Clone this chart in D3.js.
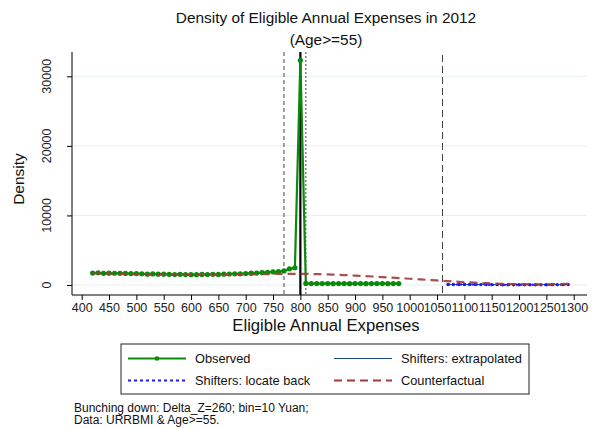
<!DOCTYPE html>
<html><head><meta charset="utf-8">
<script src="https://cdn.jsdelivr.net/npm/d3@7"></script>
<style>body{margin:0;background:#fff;} svg{display:block;font-family:"Liberation Sans",Arial,sans-serif;}</style>
</head><body>
<div id="chart"></div>
<script>
// ---- data ----
const xTicks = [400,450,500,550,600,650,700,750,800,850,900,950,1000,1050,1100,1150,1200,1250,1300];
const yTicks = [0,10000,20000,30000];
const obsX = [420,430,440,450,460,470,480,490,500,510,520,530,540,550,560,570,580,590,600,610,620,630,640,650,660,670,680,690,700,710,720,730,740,750,760,770,780,790,800,810,820,830,840,850,860,870,880,890,900,910,920,930,940,950,960,970,980];
const obsY = [1720,1760,1680,1700,1690,1680,1660,1640,1640,1620,1560,1590,1560,1550,1530,1510,1530,1500,1490,1480,1520,1510,1530,1520,1560,1580,1600,1610,1650,1700,1720,1780,1830,1880,1930,2020,2320,2480,32300,220,200,200,210,200,190,200,200,190,200,200,190,200,200,200,190,200,200];
const cfX = [420,440,460,480,500,520,540,560,580,600,620,640,660,680,700,720,740,760,780,800,820,840,860,880,900,920,940,960,980,1000,1020,1040,1060,1080,1100,1120,1140,1160,1180,1200,1220,1240,1260,1280,1290];
const cfY = [1660,1640,1610,1590,1560,1540,1520,1500,1490,1480,1480,1490,1500,1510,1530,1550,1570,1590,1600,1600,1580,1540,1490,1430,1350,1270,1180,1090,1000,900,800,700,600,500,410,330,260,200,150,120,100,100,110,140,160];
const shX = [1070,1080,1090,1100,1110,1120,1130,1140,1150,1160,1170,1180,1190,1200,1210,1220,1230,1240,1250,1260,1270,1280,1290];
const shY = [80,75,70,70,65,60,60,55,50,50,45,45,40,40,40,40,40,45,45,50,50,55,55];
const vLines = [{v:770,type:"dash"},{v:800,type:"solid"},{v:810,type:"dot"},{v:1060,type:"long"}];
const legendItems = ["Observed","Shifters: extrapolated","Shifters: locate back","Counterfactual"];
const noteLines = ["Bunching down: Delta_Z=260; bin=10 Yuan;","Data: URRBMI & Age>=55."];

// ---- chart ----
const W=592,H=429;
const svg=d3.select("#chart").append("svg").attr("width",W).attr("height",H);
const x=d3.scaleLinear().domain([400,1300]).range([81.7,573.7]);
const y=d3.scaleLinear().domain([0,30000]).range([285,76.3]);
const plotL=72, plotR=587, plotT=52, plotB=295;
const FF="Liberation Sans, Arial, sans-serif";

// gridlines
svg.append("g").selectAll("line").data(yTicks).join("line")
  .attr("x1",plotL).attr("x2",plotR).attr("y1",d=>y(d)).attr("y2",d=>y(d))
  .attr("stroke","#e6eff1").attr("stroke-width",1);

// axes
const xAxis=svg.append("g").attr("transform",`translate(0,${plotB})`)
  .call(d3.axisBottom(x).tickValues(xTicks).tickSize(5).tickPadding(3).tickFormat(d3.format("d")));
xAxis.select(".domain").attr("d",`M${plotL},0H${plotR}`).attr("stroke","#000");
xAxis.selectAll("text").attr("font-size",12.5).attr("fill","#222").attr("font-family",FF);
const yAxis=svg.append("g").attr("transform",`translate(${plotL},0)`)
  .call(d3.axisLeft(y).tickValues(yTicks).tickSize(5).tickFormat(""));
yAxis.select(".domain").attr("d",`M0,${plotT}V${plotB}`).attr("stroke","#000");
// rotated y tick labels
svg.append("g").selectAll("text").data(yTicks).join("text")
  .attr("transform",d=>`translate(${plotL-21},${y(d)}) rotate(-90)`)
  .attr("text-anchor","middle").attr("font-size",12.5).attr("fill","#222").attr("font-family",FF)
  .text(d=>d3.format("d")(d));

// vertical reference lines
const vdash={dash:"4,3",solid:null,dot:"2,2",long:"7,4"};
svg.append("g").selectAll("line").data(vLines).join("line")
  .attr("x1",d=>x(d.v)).attr("x2",d=>x(d.v)).attr("y1",d=>d.type==="long"?55:plotT).attr("y2",plotB)
  .attr("stroke",d=>d.type==="solid"?"#000":"#444")
  .attr("stroke-width",d=>d.type==="solid"?2.2:1)
  .attr("stroke-dasharray",d=>vdash[d.type]);

const line=d3.line().x(d=>x(d[0])).y(d=>y(d[1]));
const obs=obsX.map((v,i)=>[v,obsY[i]]);
const cf=cfX.map((v,i)=>[v,cfY[i]]);
const sh=shX.map((v,i)=>[v,shY[i]]);

// observed
svg.append("path").datum(obs).attr("d",line).attr("fill","none").attr("stroke","#0a8a0a").attr("stroke-width",2.2);
svg.append("g").selectAll("circle").data(obs).join("circle")
  .attr("cx",d=>x(d[0])).attr("cy",d=>y(d[1])).attr("r",2.6).attr("fill","#0a8a0a");
// shifters extrapolated + locate back
svg.append("path").datum(sh).attr("d",line).attr("fill","none").attr("stroke","#1f4e8c").attr("stroke-width",1);
svg.append("path").datum(sh).attr("d",line).attr("fill","none").attr("stroke","#1a1aff").attr("stroke-width",2).attr("stroke-dasharray","2,2");
svg.append("g").selectAll("circle").data(sh).join("circle")
  .attr("cx",d=>x(d[0])).attr("cy",d=>y(d[1])).attr("r",1.7).attr("fill","#1a1aff");
// counterfactual
svg.append("path").datum(cf).attr("d",d3.line().curve(d3.curveMonotoneX).x(d=>x(d[0])).y(d=>y(d[1])))
  .attr("fill","none").attr("stroke","#a03c3c").attr("stroke-width",2.2).attr("stroke-dasharray","8,5").attr("opacity",0.9);

// titles
svg.append("text").attr("x",326).attr("y",23).attr("text-anchor","middle").attr("font-size",15.4).attr("fill","#111").text("Density of Eligible Annual Expenses in 2012");
svg.append("text").attr("x",326).attr("y",45).attr("text-anchor","middle").attr("font-size",15.4).attr("fill","#111").text("(Age>=55)");
svg.append("text").attr("x",326).attr("y",331).attr("text-anchor","middle").attr("font-size",16.7).attr("fill","#111").text("Eligible Annual Expenses");
svg.append("text").attr("transform","translate(24,179) rotate(-90)").attr("text-anchor","middle").attr("font-size",15.5).attr("fill","#111").text("Density");

// legend
const lg=svg.append("g");
lg.append("rect").attr("x",121).attr("y",344).attr("width",408).attr("height",50).attr("fill","#fff").attr("stroke","#222").attr("stroke-width",1);
const pos=[[128,358.5],[334,358.5],[128,380.5],[334,380.5]];
lg.append("line").attr("x1",pos[0][0]).attr("x2",pos[0][0]+58).attr("y1",pos[0][1]).attr("y2",pos[0][1]).attr("stroke","#0a8a0a").attr("stroke-width",2);
lg.append("circle").attr("cx",pos[0][0]+29).attr("cy",pos[0][1]).attr("r",2.3).attr("fill","#0a8a0a");
lg.append("line").attr("x1",pos[1][0]).attr("x2",pos[1][0]+58).attr("y1",pos[1][1]).attr("y2",pos[1][1]).attr("stroke","#1f4e8c").attr("stroke-width",1);
lg.append("line").attr("x1",pos[2][0]).attr("x2",pos[2][0]+58).attr("y1",pos[2][1]).attr("y2",pos[2][1]).attr("stroke","#1a1aff").attr("stroke-width",2).attr("stroke-dasharray","3,3");
lg.append("line").attr("x1",pos[3][0]).attr("x2",pos[3][0]+58).attr("y1",pos[3][1]).attr("y2",pos[3][1]).attr("stroke","#a03c3c").attr("stroke-width",2).attr("stroke-dasharray","8,5");
lg.selectAll("text.li").data(legendItems).join("text").attr("class","li")
  .attr("x",(d,i)=>pos[i][0]+67).attr("y",(d,i)=>pos[i][1]+4.5).attr("font-size",12.8).attr("fill","#111").text(d=>d);

// note
svg.selectAll("text.note").data(noteLines).join("text").attr("class","note")
  .attr("x",74).attr("y",(d,i)=>411.5+i*12.5).attr("font-size",12).attr("fill","#111").text(d=>d);
</script>
</body></html>
